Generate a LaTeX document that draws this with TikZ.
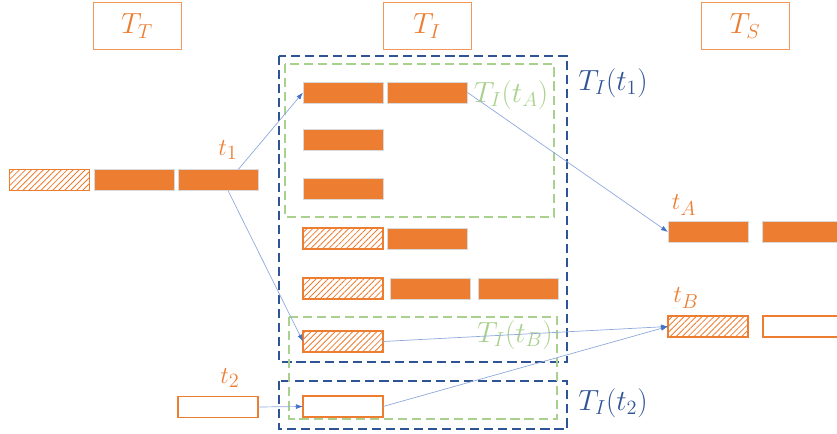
\documentclass[tikz,border=0pt]{standalone}
\usetikzlibrary{arrows.meta,patterns.meta}
\definecolor{barorange}{HTML}{ED7D31}
\definecolor{setblue}{HTML}{2F5496}
\definecolor{subgreen}{HTML}{A9D18E}
\definecolor{linkblue}{HTML}{8FAADC}
\definecolor{tipblue}{HTML}{4472C4}
\tikzset{
    bar/.style={minimum width=2cm, minimum height=0.525cm, inner sep=0pt, outer sep=0pt},
    fullbar/.style={bar, fill=barorange, draw=gray!30, line width=0.3pt},
    hatchbar/.style={bar, draw=barorange, line width=1pt,
        pattern={Lines[angle=45,distance=3pt,line width=0.6pt]}, pattern color=barorange},
    emptybar/.style={bar, draw=barorange, line width=1.4pt, fill=white},
    header/.style={draw=barorange!80, line width=0.6pt, minimum width=2.2cm, minimum height=1.175cm,
        text=barorange, font=\fontsize{22}{24}\selectfont},
    tlabel/.style={text=barorange, font=\fontsize{19}{21}\selectfont},
    setbox/.style={draw=setblue, line width=1.9pt, dash pattern=on 6.5pt off 3.5pt},
    subbox/.style={draw=subgreen, line width=1.7pt, dash pattern=on 6.5pt off 3.5pt},
    link/.style={draw=linkblue, line width=0.5pt, -{Latex[length=5pt,width=3.5pt,color=tipblue]}}
}
\begin{document}
\begin{tikzpicture}[x=0.025cm, y=-0.025cm]
    \useasboundingbox (0,0) rectangle (837,434);

    % headers
    \node[header] (hT) at (137,26) {$T_T$};
    \node[header] (hI) at (427,26) {$T_I$};
    \node[header] (hS) at (745,26) {$T_S$};

    % index boxes
    \draw[setbox] (279,56) rectangle (567,362);
    \draw[setbox] (279,381) rectangle (567,429);
    \draw[subbox] (285,64) rectangle (554,217);
    \draw[subbox] (289,317) rectangle (557,419);
    \node[text=setblue, font=\fontsize{20}{22}\selectfont] (lI1) at (613,83) {$T_I(t_1)$};
    \node[text=setblue, font=\fontsize{20}{22}\selectfont] (lI2) at (613,403) {$T_I(t_2)$};
    \node[text=subgreen, font=\fontsize{20}{22}\selectfont] (lIA) at (511,95) {$T_I(t_A)$};
    \node[text=subgreen, font=\fontsize{20}{22}\selectfont] (lIB) at (515,335) {$T_I(t_B)$};

    % T_T
    \node[hatchbar] (lh) at (49.5,180) {};
    \node[fullbar] (la) at (134,180) {};
    \node[fullbar] (lb) at (218.5,180) {};
    \node[tlabel] (t1) at (228,150) {$t_1$};
    \node[emptybar] (le) at (218,407) {};
    \node[tlabel] (t2) at (230,378) {$t_2$};

    % T_I
    \node[fullbar] (a1) at (343,92.5) {};
    \node[fullbar] (a2) at (427.5,92.5) {};
    \node[fullbar] (b1) at (343,139.5) {};
    \node[fullbar] (c1) at (343,188.5) {};
    \node[hatchbar] (d1) at (343,238.5) {};
    \node[fullbar] (d2) at (427.5,238.5) {};
    \node[hatchbar] (e1) at (343,288.5) {};
    \node[fullbar] (e2) at (430.5,288.5) {};
    \node[fullbar] (e3) at (518.5,288.5) {};
    \node[hatchbar] (f1) at (343,341.5) {};
    \node[emptybar] (g1) at (343,406.5) {};

    % T_S
    \node[tlabel] (tA) at (684,205) {$t_A$};
    \node[fullbar] (sa1) at (708,232) {};
    \node[fullbar] (sa2) at (802,232) {};
    \node[tlabel] (tB) at (686,298) {$t_B$};
    \node[hatchbar] (sb1) at (708,326.5) {};
    \node[emptybar] (sb2) at (803,326.5) {};

    % links
    \draw[link] (lb.28) -- (a1.west);
    \draw[link] (lb.-48) -- (f1.west);
    \draw[link] (a2.east) -- (sa1.west);
    \draw[link] (f1.east) -- (sb1.west);
    \draw[link] (g1.east) -- (sb1.west);
    \draw[link] (le.east) -- (g1.west);
\end{tikzpicture}
\end{document}
